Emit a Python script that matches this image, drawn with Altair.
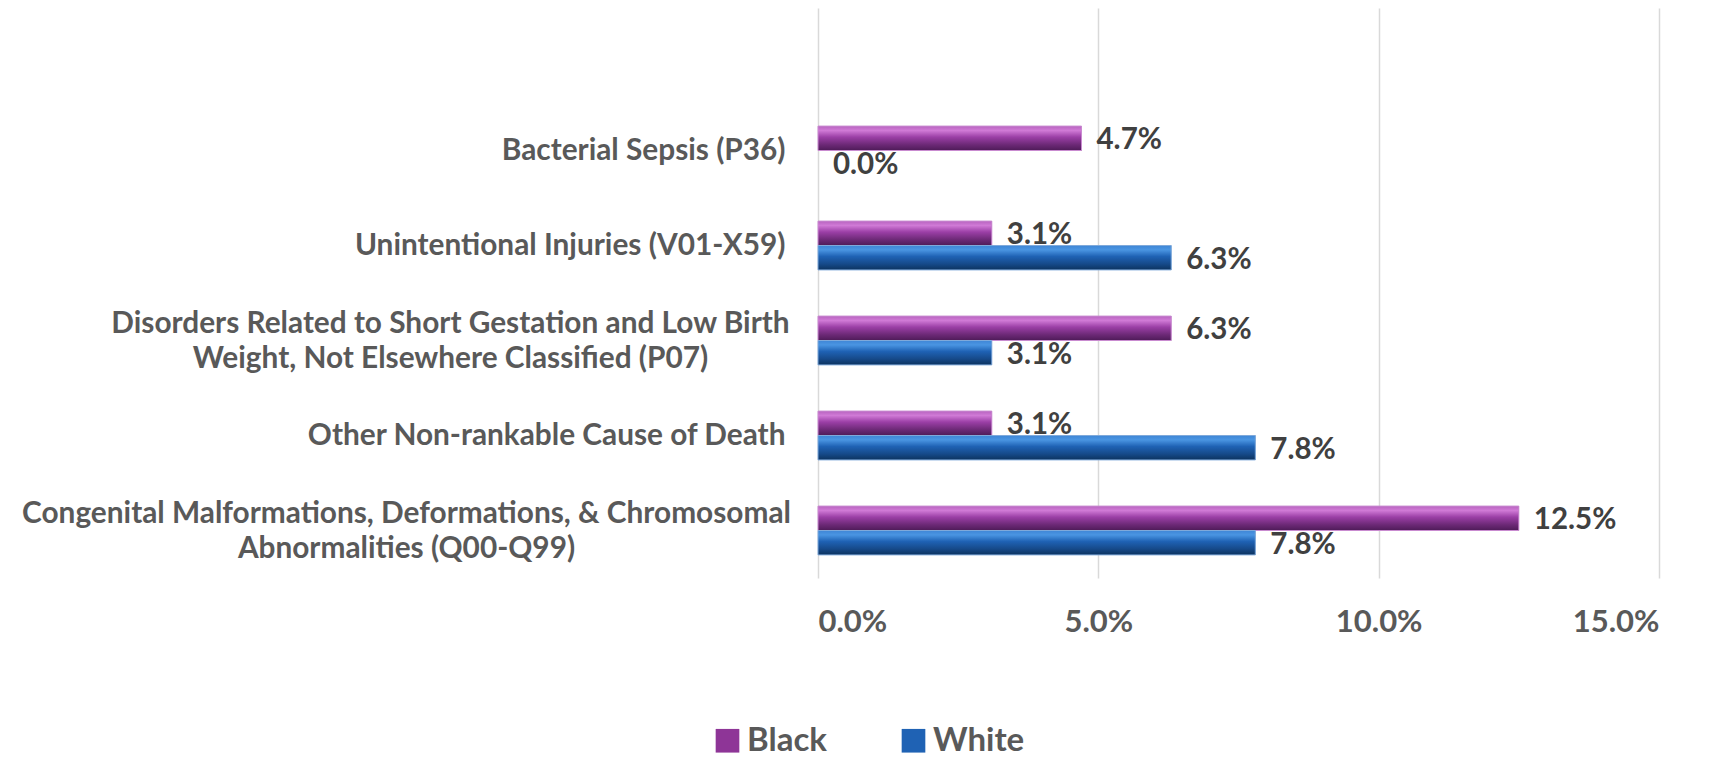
import altair as alt
import pandas as pd

categories = [
    "Bacterial Sepsis (P36)",
    "Unintentional Injuries (V01-X59)",
    "Disorders Related to Short Gestation and Low Birth\nWeight, Not Elsewhere Classified (P07)",
    "Other Non-rankable Cause of Death",
    "Congenital Malformations, Deformations, & Chromosomal\nAbnormalities (Q00-Q99)",
]
series = ["Black", "White"]
black_values = [4.7, 3.1, 6.3, 3.1, 12.5]
white_values = [0.0, 6.3, 3.1, 7.8, 7.8]
x_ticks = [0, 5, 10, 15]

rows = []
for c, b, w in zip(categories, black_values, white_values):
    rows.append({"cause": c, "race": "Black", "pct": b})
    rows.append({"cause": c, "race": "White", "pct": w})
df = pd.DataFrame(rows)

FONT = "Lato"
y_domain = [" "] + categories

IS_MULTI = "indexof(datum.label, '\\n') >= 0"
IS_CONG = "indexof(datum.label, 'Congenital') >= 0"
IS_DIS = "indexof(datum.label, 'Disorders') >= 0"

y_enc = alt.Y(
    "cause:N",
    scale=alt.Scale(domain=y_domain, paddingInner=0.486, paddingOuter=0.243),
    axis=alt.Axis(
        title=None, ticks=False, domain=False, labelLimit=1200,
        labelPadding={"condition": [
            {"test": IS_CONG, "value": 412},
            {"test": IS_DIS, "value": 368},
        ], "value": 33},
        labelAlign={"condition": {"test": IS_MULTI, "value": "center"}, "value": "right"},
        labelOffset={"condition": {"test": IS_MULTI, "value": -17}, "value": 0},
        labelFont=FONT, labelFontSize=29.8, labelFontWeight="bold", labelColor="#595959",
        labelExpr="split(datum.label, '\\n')", labelLineHeight=35,
    ),
)
x_enc = alt.X(
    "pct:Q",
    scale=alt.Scale(domain=[0, 15], nice=False),
    axis=alt.Axis(
        title=None, values=x_ticks, grid=True, gridColor="#D9D9D9", gridWidth=1.5,
        domain=False, ticks=False, labelPadding=29,
        labelFont=FONT, labelFontSize=31, labelFontWeight="bold", labelColor="#595959",
        labelExpr="format(datum.value, '.1f') + '%'",
    ),
)
yoff = alt.YOffset("race:N", scale=alt.Scale(domain=series, paddingInner=0, paddingOuter=0))

base = alt.Chart(df).encode(y=y_enc, yOffset=yoff)

solid = base.mark_bar().encode(
    x=x_enc,
    color=alt.Color(
        "race:N",
        scale=alt.Scale(domain=series, range=["#8E3597", "#1F62B4"]),
        legend=alt.Legend(
            title=None, orient="none", direction="horizontal", legendX=-107, legendY=716,
            symbolType="square", symbolSize=560, symbolStrokeWidth=0, columnPadding=70,
            labelFont=FONT, labelFontSize=33, labelFontWeight="bold", labelColor="#595959",
            labelOffset=3,
        ),
    ),
)

purple_grad = alt.Gradient(
    gradient="linear", x1=0, x2=0, y1=0, y2=1,
    stops=[
        alt.GradientStop(color="#B864C0", offset=0),
        alt.GradientStop(color="#D07AD6", offset=0.18),
        alt.GradientStop(color="#9B3FA6", offset=0.45),
        alt.GradientStop(color="#6E2A78", offset=0.75),
        alt.GradientStop(color="#4E1B58", offset=1),
    ],
)
blue_grad = alt.Gradient(
    gradient="linear", x1=0, x2=0, y1=0, y2=1,
    stops=[
        alt.GradientStop(color="#3F86D6", offset=0),
        alt.GradientStop(color="#4A95E2", offset=0.18),
        alt.GradientStop(color="#1F62B4", offset=0.45),
        alt.GradientStop(color="#164A8A", offset=0.75),
        alt.GradientStop(color="#0C335F", offset=1),
    ],
)

grad_black = base.transform_filter(
    (alt.datum.race == "Black") & (alt.datum.pct > 0)
).mark_bar(color=purple_grad, stroke="#C98BD0", strokeWidth=1).encode(x=alt.X("pct:Q"))
grad_white = base.transform_filter(
    (alt.datum.race == "White") & (alt.datum.pct > 0)
).mark_bar(color=blue_grad, stroke="#7FA9DA", strokeWidth=1).encode(x=alt.X("pct:Q"))

labels = base.transform_calculate(
    lab="format(datum.pct, '.1f') + '%'"
).mark_text(
    align="left", baseline="middle", dx=15, dy=2,
    font=FONT, fontSize=29.5, fontWeight="bold", color="#404040",
).encode(x=alt.X("pct:Q"), text="lab:N")

chart = alt.layer(solid, grad_black, grad_white, labels).properties(
    width=841, height=570,
    padding={"left": 13, "top": 0, "right": 5, "bottom": 0},
).configure_view(stroke=None)

chart.save("out.html", embed_options={"renderer": "svg", "actions": False})
